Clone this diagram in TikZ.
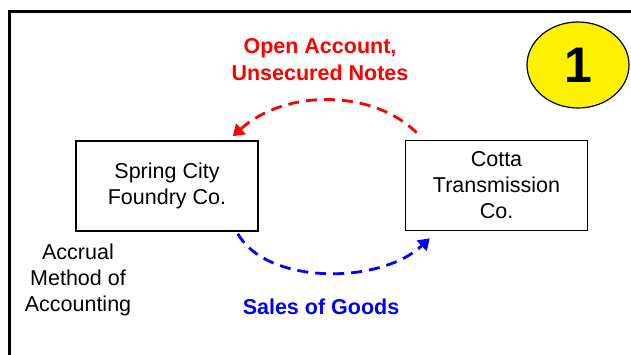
\documentclass[tikz,border=0pt]{standalone}
\usepackage{fontspec}
\setmainfont{Liberation Sans}
\usetikzlibrary{arrows.meta,shapes.geometric,calc}
\begin{document}
\begin{tikzpicture}[x=1pt,y=-1pt,
  firm/.style={draw=black,line width=1.6pt,minimum width=182pt,minimum height=90pt,align=center,inner sep=0pt,font=\fontsize{21.5}{26}\selectfont},
  flowred/.style={draw=red,line width=2.8pt,dash pattern=on 11pt off 7pt,-{Triangle[length=11pt,width=14pt]}},
  flowblue/.style={draw=blue,line width=2.8pt,dash pattern=on 11pt off 7pt,-{Triangle[length=11pt,width=14pt]}},
  lbl/.style={align=center,font=\fontsize{21.5}{27}\selectfont\bfseries}]
\useasboundingbox (0,0) rectangle (631,354);
\fill[white] (0,0) rectangle (631,354);
\draw[line width=3pt,black] (9,356) -- (9,11) -- (633,11);

\node[firm] (spring) at (167,186) {Spring City\\Foundry Co.};
\node[firm] (cotta) at (496.5,185.5) {Cotta\\Transmission\\Co.};

\node[ellipse,draw=black,line width=1.2pt,fill=yellow,minimum width=102pt,minimum height=86pt,inner sep=0pt,font=\fontsize{50}{50}\selectfont\bfseries] (num) at (578,65) {1};

\node[lbl,text=red] (redlbl) at (320,60) {Open Account,\\Unsecured Notes};
\node[lbl,text=blue] (bluelbl) at (321,307) {Sales of Goods};
\node[align=center,font=\fontsize{21.5}{26}\selectfont] (accr) at (78,280) {Accrual\\Method of\\Accounting};

\coordinate (rs) at ($(cotta.north west)+(12,-7)$);
\coordinate (re) at ($(spring.north east)+(-26,-4)$);
\coordinate (bs) at ($(spring.south east)+(-21,2)$);
\coordinate (be) at ($(cotta.south west)+(25,7)$);

\draw[flowred] (rs) .. controls (372,89) and (285,89) .. (re);
\draw[flowblue] (bs) .. controls (267,285) and (380,285) .. (be);
\end{tikzpicture}
\end{document}
